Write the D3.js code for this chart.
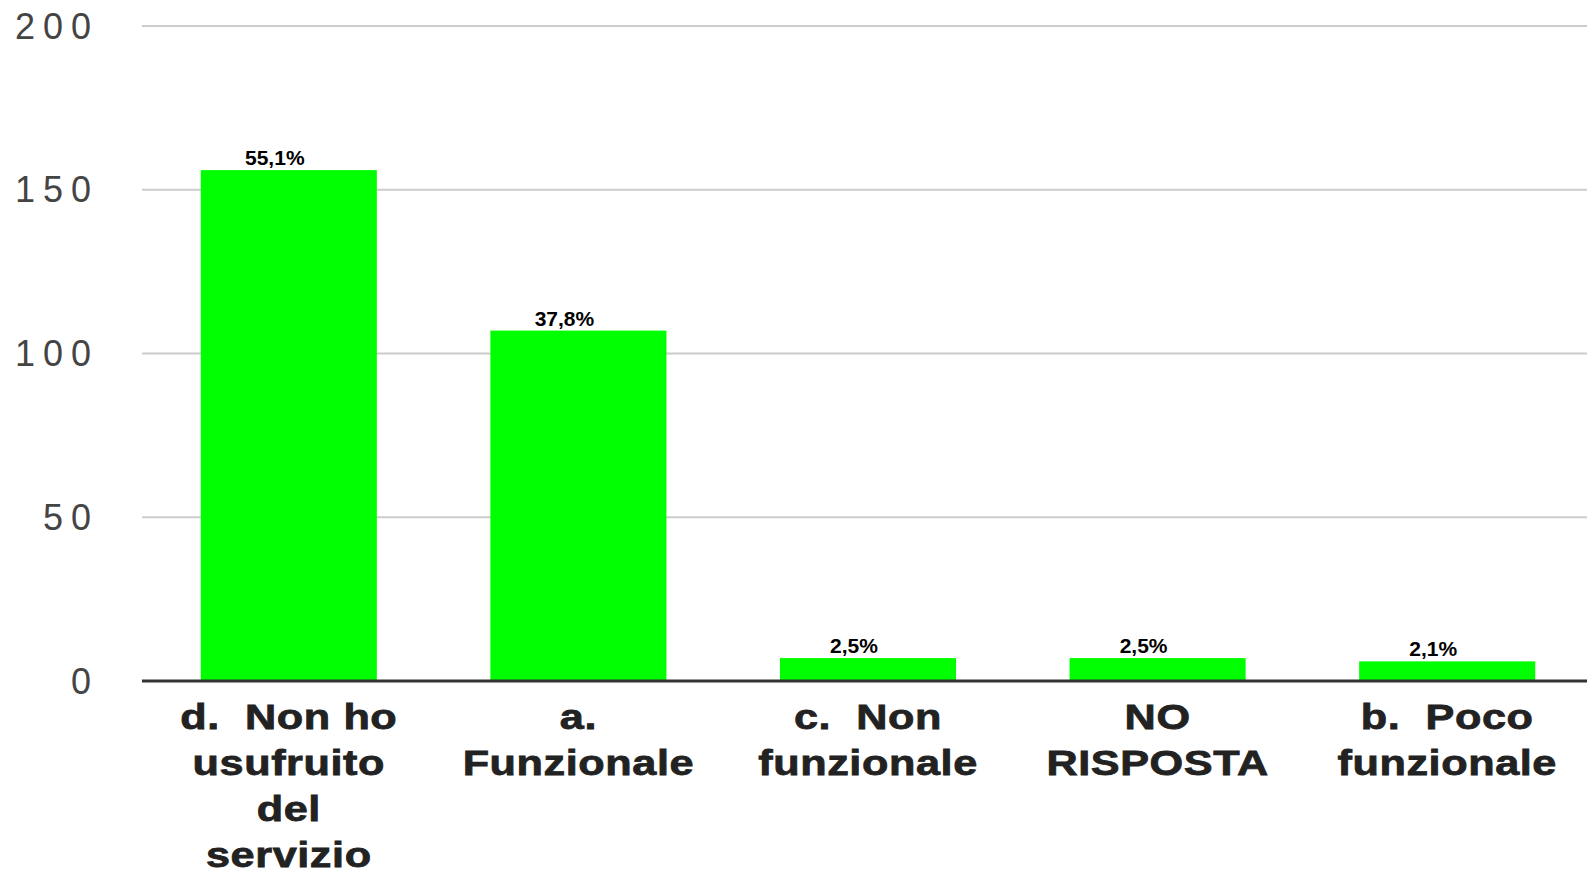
<!DOCTYPE html>
<html>
<head>
<meta charset="utf-8">
<script src="https://cdn.jsdelivr.net/npm/d3@7"></script>
<style>
  html, body { margin: 0; padding: 0; background: #fff; }
  svg { display: block; }
  .tick-y { font-family: "Liberation Sans", Arial, sans-serif; font-size: 36px; fill: #444; letter-spacing: 8px; }
  .tick-x { font-family: "Liberation Sans", Arial, sans-serif; font-size: 36px; font-weight: bold; fill: #222; letter-spacing: 0.5px; white-space: pre; stroke: #222; stroke-width: 0.8px; }
  .value { font-family: "Liberation Sans", Arial, sans-serif; font-size: 21px; font-weight: bold; fill: #000; }
</style>
</head>
<body>
<svg id="chart" width="1587" height="869"></svg>
<script>
// categories in display order, with line breaks as in the picture
var categories = [
  'd.  Non ho\nusufruito\ndel\nservizio',
  'a.\nFunzionale',
  'c.  Non\nfunzionale',
  'NO\nRISPOSTA',
  'b.  Poco\nfunzionale'
];
var counts = [156, 107, 7, 7, 6];
var yTicks = [0, 50, 100, 150, 200];

var width = 1587, height = 869;
var svg = d3.select('#chart');
var total = d3.sum(counts);

var x = d3.scaleBand()
  .domain(categories)
  .range([144, 1592])
  .paddingInner(0.392)
  .paddingOuter(0.196);

var y = d3.scaleLinear()
  .domain([0, 200])
  .range([681, 26]);

// gridlines
svg.append('g').selectAll('line')
  .data(yTicks.filter(function(d) { return d > 0; }))
  .enter().append('line')
  .attr('x1', 142).attr('x2', width)
  .attr('y1', function(d) { return y(d); })
  .attr('y2', function(d) { return y(d); })
  .attr('stroke', '#cccccc')
  .attr('stroke-width', 2);

// y labels
svg.append('g').selectAll('text')
  .data(yTicks)
  .enter().append('text')
  .attr('class', 'tick-y')
  .attr('x', 99)
  .attr('y', function(d) { return y(d); })
  .attr('dy', '0.35em')
  .attr('text-anchor', 'end')
  .text(function(d) { return d; });

// bars
svg.append('g').selectAll('rect')
  .data(counts)
  .enter().append('rect')
  .attr('x', function(d, i) { return x(categories[i]); })
  .attr('width', x.bandwidth())
  .attr('y', function(d) { return y(d); })
  .attr('height', function(d) { return y(0) - y(d); })
  .attr('fill', '#00ff00');

// value labels
svg.append('g').selectAll('text')
  .data(counts)
  .enter().append('text')
  .attr('class', 'value')
  .attr('x', function(d, i) { return x(categories[i]) + x.bandwidth() / 2 - 14; })
  .attr('y', function(d) { return y(d) - 5; })
  .attr('text-anchor', 'middle')
  .text(function(d) { return (d / total * 100).toFixed(1).replace('.', ',') + '%'; });

// axis line
svg.append('line')
  .attr('x1', 142).attr('x2', width)
  .attr('y1', y(0)).attr('y2', y(0))
  .attr('stroke', '#333')
  .attr('stroke-width', 3);

// category labels, a bit stretched sideways like the original
var labels = svg.append('g').selectAll('text')
  .data(categories)
  .enter().append('text')
  .attr('class', 'tick-x')
  .attr('text-anchor', 'middle')
  .attr('transform', function(d) {
    return 'translate(' + (x(d) + x.bandwidth() / 2) + ',729) scale(1.2,1)';
  });

labels.selectAll('tspan')
  .data(function(d) { return d.split('\n'); })
  .enter().append('tspan')
  .attr('x', 0)
  .attr('dy', function(d, i) { return i === 0 ? 0 : 46; })
  .text(function(d) { return d; });
</script>
</body>
</html>
